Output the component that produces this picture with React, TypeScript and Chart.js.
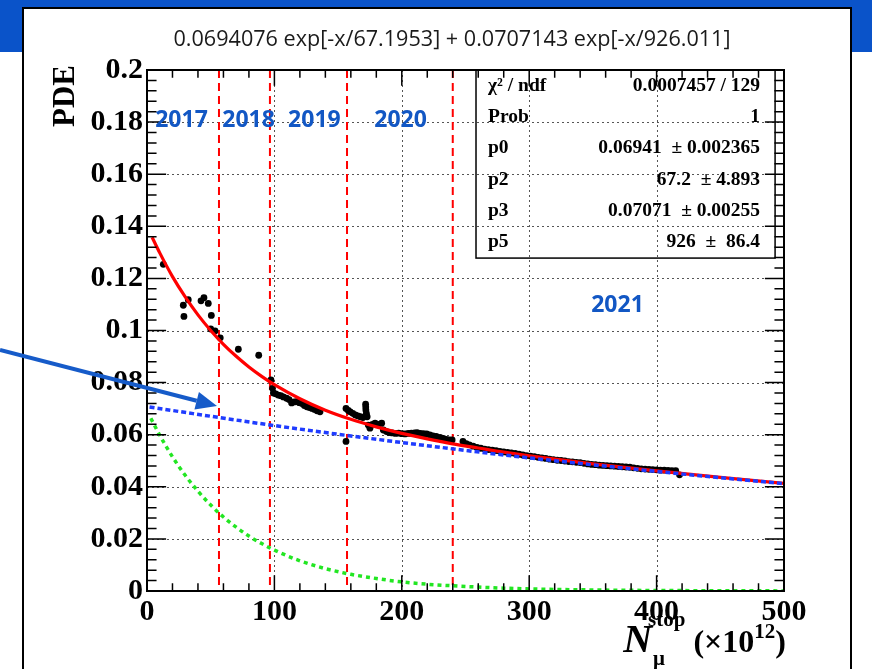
import React, { useEffect, useRef } from "react";
import { Chart, registerables } from "chart.js";

Chart.register(...registerables);

const W = 872;
const H = 669;

const chartTitle = "0.0694076 exp[-x/67.1953] + 0.0707143 exp[-x/926.011]";
const yAxisTitle = "PDE";

const xTicks = [0, 100, 200, 300, 400, 500];
const xTickLabels = ["0", "100", "200", "300", "400", "500"];
const yTicks = [0, 0.02, 0.04, 0.06, 0.08, 0.1, 0.12, 0.14, 0.16, 0.18, 0.2];
const yTickLabels = ["0", "0.02", "0.04", "0.06", "0.08", "0.1", "0.12", "0.14", "0.16", "0.18", "0.2"];

// measured PDE points
const pdeX = [
  12.8, 28.5, 29.0, 32.4, 42.4, 44.7, 48.1, 50.0, 50.5, 53.4, 57.5, 71.7, 87.7,
  97.3, 98.5, 99.2, 101.0, 103.0, 105.0, 107.0, 109.5, 111.5, 113.5, 115.5, 117.5, 119.5, 121.5, 123.5, 125.5, 127.5, 129.5, 131.5, 133.5, 135.8,
  156.2, 156.2, 158.0, 159.5, 161.5, 163.5, 165.5, 167.5, 169.5, 171.6, 171.7, 171.8, 172.2, 172.8, 173.7, 175.0, 177.0, 179.0, 181.5, 184.2,
  185.5, 188.0, 190.0, 192.5, 195.0, 197.5, 200.0, 202.5, 205.0, 207.5, 210.0, 212.0, 214.5, 217.0, 219.5, 222.0, 224.5, 227.0, 230.0, 232.5, 235.0, 237.5, 239.5,
  248.0, 250.5, 253.0, 256.0, 259.0, 262.0, 265.0, 268.0, 271.0, 274.0, 277.0, 280.0, 283.0, 286.0, 289.0, 292.0, 295.0, 298.0, 301.0, 304.0,
  307.0, 310.0, 313.0, 316.0, 319.0, 322.0, 325.0, 328.0, 331.0, 334.0, 337.0, 340.0, 343.0, 346.0, 349.0, 352.0, 355.0, 358.0, 361.0, 364.0,
  367.0, 370.0, 373.0, 376.0, 379.0, 382.0, 385.0, 388.0, 391.0, 394.0, 397.0, 400.0, 403.0, 406.0, 409.0, 412.0, 415.0, 418.0,
];
const pdeY = [
  0.1254, 0.1097, 0.1054, 0.1118, 0.1114, 0.1126, 0.1104, 0.1006, 0.1058, 0.0998, 0.0972, 0.0928, 0.0905,
  0.0810, 0.0778, 0.0760, 0.0757, 0.0752, 0.0750, 0.0745, 0.0740, 0.0735, 0.0722, 0.0726, 0.0727, 0.0723, 0.0720, 0.0712, 0.0707, 0.0704, 0.0701, 0.0697, 0.0692, 0.0688,
  0.0701, 0.0574, 0.0693, 0.0688, 0.0682, 0.0676, 0.0672, 0.0669, 0.0666, 0.0717, 0.0706, 0.0695, 0.0682, 0.0669, 0.0637, 0.0625, 0.0640, 0.0644, 0.0640, 0.0644,
  0.0618, 0.0612, 0.0608, 0.0607, 0.0605, 0.0606, 0.0604, 0.0603, 0.0605, 0.0606, 0.0607, 0.0608, 0.0605, 0.0604, 0.0603, 0.0599, 0.0595, 0.0593, 0.0590, 0.0586, 0.0582, 0.0580, 0.0580,
  0.0574, 0.0566, 0.0561, 0.0556, 0.0551, 0.0548, 0.0545, 0.0543, 0.0541, 0.0539, 0.0536, 0.0534, 0.0532, 0.0530, 0.0528, 0.0525, 0.0522, 0.0520, 0.0518, 0.0516,
  0.0513, 0.0511, 0.0509, 0.0506, 0.0504, 0.0502, 0.0501, 0.0499, 0.0497, 0.0496, 0.0494, 0.0493, 0.0490, 0.0488, 0.0486, 0.0485, 0.0483, 0.0482, 0.0481, 0.0480,
  0.0479, 0.0478, 0.0477, 0.0476, 0.0475, 0.0473, 0.0471, 0.0469, 0.0468, 0.0467, 0.0466, 0.0465, 0.0464, 0.0464, 0.0463, 0.0462, 0.0462, 0.0446,
];

// fitted total curve (red)
const fitX = [4, 10, 20, 30, 40, 50, 60, 70, 80, 90, 100, 120, 140, 160, 180, 200, 220, 240, 260, 280, 300, 350, 400, 450, 500];
const fitY = [0.1358, 0.1298, 0.1207, 0.1129, 0.1060, 0.1000, 0.0947, 0.0901, 0.0860, 0.0824, 0.0792, 0.0738, 0.0694, 0.0659, 0.0630, 0.0605, 0.0584, 0.0565, 0.0549, 0.0533, 0.0519, 0.0488, 0.0461, 0.0436, 0.0413];

// slow component (blue dashed)
const slowX = [2, 100, 200, 300, 400, 500];
const slowY = [0.0706, 0.0635, 0.0570, 0.0511, 0.0459, 0.0412];

// fast component (green dashed)
const fastX = [3, 10, 20, 30, 40, 50, 60, 70, 80, 90, 100, 120, 140, 160, 180, 200, 220, 240, 260, 280, 300, 350, 400, 450, 500];
const fastY = [0.0663, 0.0598, 0.0515, 0.0444, 0.0383, 0.0330, 0.0284, 0.0245, 0.0211, 0.0182, 0.0157, 0.0116, 0.0086, 0.0064, 0.0048, 0.0035, 0.0026, 0.0020, 0.0015, 0.0011, 0.0008, 0.0004, 0.0002, 0.0001, 0.00004];

const yearDividers = [56.5, 96.5, 157, 240];
const yearNames = ["2017", "2018", "2019", "2020", "2021"];
const yearNameX = [27.1, 79.7, 131.4, 199, 369.3];
const yearNameY = [0.1806, 0.1806, 0.1806, 0.1806, 0.1098];

const statsLabels = ["χ² / ndf", "Prob", "p0", "p2", "p3", "p5"];
const statsValues = ["0.0007457 / 129", "1", "0.06941  ± 0.002365", "67.2  ± 4.893", "0.07071  ± 0.00255", "926  ±  86.4"];

const BAND = "#0a53c9";
const YEAR_BLUE = "#1257c4";
const SERIF = "'Liberation Serif', 'Times New Roman', serif";

const decor = {
  id: "decor",
  beforeDraw(chart: any) {
    const { ctx } = chart;
    ctx.save();
    ctx.fillStyle = "#ffffff";
    ctx.fillRect(0, 0, W, H);
    ctx.fillStyle = BAND;
    ctx.fillRect(0, 0, W, 52);
    ctx.fillStyle = "#ffffff";
    ctx.fillRect(23, 8, 828, H);
    ctx.strokeStyle = "#000";
    ctx.lineWidth = 2;
    ctx.beginPath();
    ctx.moveTo(23, H);
    ctx.lineTo(23, 8);
    ctx.lineTo(851, 8);
    ctx.lineTo(851, H);
    ctx.stroke();
    ctx.fillStyle = "#1a1a1a";
    ctx.font = "21.6px 'Open Sans', sans-serif";
    ctx.textAlign = "center";
    ctx.textBaseline = "middle";
    ctx.fillText(chartTitle, 452, 40);
    ctx.restore();
  },
  beforeDatasetsDraw(chart: any) {
    const { ctx, chartArea: a, scales } = chart;
    const xs = scales.x, ys = scales.y;
    ctx.save();
    // dotted grid
    ctx.strokeStyle = "#555";
    ctx.lineWidth = 1;
    ctx.setLineDash([2, 3]);
    xTicks.forEach((v) => {
      if (v === xs.min || v === xs.max) return;
      const p = Math.round(xs.getPixelForValue(v)) + 0.5;
      ctx.beginPath();
      ctx.moveTo(p, a.top);
      ctx.lineTo(p, a.bottom);
      ctx.stroke();
    });
    yTicks.forEach((v) => {
      if (v === ys.min || v === ys.max) return;
      const p = Math.round(ys.getPixelForValue(v)) + 0.5;
      ctx.beginPath();
      ctx.moveTo(a.left, p);
      ctx.lineTo(a.right, p);
      ctx.stroke();
    });
    // year dividers
    ctx.strokeStyle = "#ff0000";
    ctx.lineWidth = 2;
    ctx.setLineDash([8, 5]);
    yearDividers.forEach((v) => {
      const p = xs.getPixelForValue(v);
      ctx.beginPath();
      ctx.moveTo(p, a.top);
      ctx.lineTo(p, a.bottom);
      ctx.stroke();
    });
    ctx.restore();
  },
  afterDatasetsDraw(chart: any) {
    const { ctx, chartArea: a, scales } = chart;
    const xs = scales.x, ys = scales.y;
    ctx.save();
    ctx.setLineDash([]);
    // frame
    ctx.strokeStyle = "#000";
    ctx.lineWidth = 2;
    ctx.strokeRect(a.left, a.top, a.right - a.left, a.bottom - a.top);
    // ticks
    ctx.lineWidth = 1.5;
    const pw = a.right - a.left, ph = a.bottom - a.top;
    for (let k = 0; k <= 25; k++) {
      const v = k * 20;
      const p = xs.getPixelForValue(v);
      const len = k % 5 === 0 ? 0.03 * ph : 0.015 * ph;
      ctx.beginPath();
      ctx.moveTo(p, a.bottom);
      ctx.lineTo(p, a.bottom - len);
      ctx.moveTo(p, a.top);
      ctx.lineTo(p, a.top + len);
      ctx.stroke();
    }
    for (let k = 0; k <= 50; k++) {
      const v = k * 0.004;
      const p = ys.getPixelForValue(v);
      const len = k % 5 === 0 ? 0.03 * pw : 0.015 * pw;
      ctx.beginPath();
      ctx.moveTo(a.left, p);
      ctx.lineTo(a.left + len, p);
      ctx.moveTo(a.right, p);
      ctx.lineTo(a.right - len, p);
      ctx.stroke();
    }
    // stats box
    const bx0 = a.left + 0.5165 * pw;
    const bx1 = a.left + 0.986 * pw;
    const by0 = a.top;
    const by1 = a.top + 0.361 * ph;
    ctx.lineWidth = 1.5;
    ctx.strokeRect(bx0, by0, bx1 - bx0, by1 - by0);
    ctx.fillStyle = "#000";
    ctx.font = `bold 19.5px ${SERIF}`;
    ctx.textBaseline = "middle";
    const rowH = (by1 - by0) / statsLabels.length;
    statsLabels.forEach((lab, i) => {
      const cy = by0 + rowH * (i + 0.5);
      ctx.textAlign = "left";
      ctx.fillText(lab, bx0 + 12, cy);
      ctx.textAlign = "right";
      ctx.fillText(statsValues[i], bx1 - 15, cy);
    });
    // year labels
    ctx.fillStyle = YEAR_BLUE;
    ctx.font = "bold 23px 'Open Sans', sans-serif";
    ctx.textAlign = "center";
    ctx.textBaseline = "middle";
    yearNames.forEach((n, i) => {
      ctx.fillText(n, xs.getPixelForValue(yearNameX[i]), ys.getPixelForValue(yearNameY[i]));
    });
    // y axis title
    ctx.fillStyle = "#000";
    ctx.save();
    ctx.translate(66, 96);
    ctx.rotate(-Math.PI / 2);
    ctx.font = `bold 31px ${SERIF}`;
    ctx.textAlign = "center";
    ctx.textBaseline = "middle";
    ctx.fillText(yAxisTitle, 0, 0);
    ctx.restore();
    // x axis title: N_mu^stop (x10^12)
    ctx.textAlign = "left";
    ctx.textBaseline = "alphabetic";
    const base = 652;
    const fN = `italic bold 40px ${SERIF}`;
    const fS = `bold 21px ${SERIF}`;
    const fM = `bold 32px ${SERIF}`;
    const fE = `bold 21px ${SERIF}`;
    ctx.font = fN; const wN = ctx.measureText("N").width;
    ctx.font = fS; const wMu = ctx.measureText("μ").width; const wStop = ctx.measureText("stop").width;
    ctx.font = fM; const wOpen = ctx.measureText("(×10").width; const wClose = ctx.measureText(")").width;
    ctx.font = fE; const wExp = ctx.measureText("12").width;
    const scriptW = Math.max(wMu + 1, wStop - 4);
    const total = wN + scriptW + 8 + wOpen + wExp + wClose;
    const x0 = a.right + 2 - total;
    ctx.font = fN; ctx.fillText("N", x0, base);
    ctx.font = fS;
    ctx.fillText("μ", x0 + wN + 1, base + 13);
    ctx.fillText("stop", x0 + wN - 4, base - 26);
    let x1 = x0 + wN + scriptW + 8;
    ctx.font = fM; ctx.fillText("(×10", x1, base);
    x1 += wOpen;
    ctx.font = fE; ctx.fillText("12", x1, base - 14);
    x1 += wExp;
    ctx.font = fM; ctx.fillText(")", x1, base);
    // arrow
    const tipX = 217, tipY = 406, sx = 0, sy = 350;
    const dx = tipX - sx, dy = tipY - sy, L = Math.hypot(dx, dy);
    const ux = dx / L, uy = dy / L;
    const hl = 21, hw = 9;
    const bxC = tipX - hl * ux, byC = tipY - hl * uy;
    ctx.strokeStyle = "#165bc9";
    ctx.fillStyle = "#165bc9";
    ctx.lineWidth = 4;
    ctx.beginPath();
    ctx.moveTo(sx, sy);
    ctx.lineTo(bxC, byC);
    ctx.stroke();
    ctx.beginPath();
    ctx.moveTo(tipX, tipY);
    ctx.lineTo(bxC - hw * uy, byC + hw * ux);
    ctx.lineTo(bxC + hw * uy, byC - hw * ux);
    ctx.closePath();
    ctx.fill();
    ctx.restore();
  },
};

const toPoints = (xs: number[], ys: number[]) => xs.map((x, i) => ({ x, y: ys[i] }));

export default function App() {
  const ref = useRef<HTMLCanvasElement>(null);
  useEffect(() => {
    document.body.style.margin = "0";
    const canvas = ref.current!;
    const tickFont = { family: SERIF, weight: "bold" as const, size: 30 };
    const chart = new Chart(canvas, {
      type: "scatter",
      data: {
        datasets: [
          {
            label: "PDE",
            data: toPoints(pdeX, pdeY),
            showLine: false,
            pointRadius: 3.4,
            pointBorderWidth: 0,
            pointBackgroundColor: "#000",
            pointBorderColor: "#000",
            order: 4,
          },
          {
            label: "fit",
            data: toPoints(fitX, fitY),
            showLine: true,
            borderColor: "#ff0000",
            borderWidth: 3.2,
            pointRadius: 0,
            cubicInterpolationMode: "monotone",
            order: 3,
          },
          {
            label: "slow",
            data: toPoints(slowX, slowY),
            showLine: true,
            borderColor: "#1f3cff",
            borderWidth: 3.5,
            borderDash: [5, 3],
            pointRadius: 0,
            cubicInterpolationMode: "monotone",
            order: 2,
          },
          {
            label: "fast",
            data: toPoints(fastX, fastY),
            showLine: true,
            borderColor: "#22e622",
            borderWidth: 3.5,
            borderDash: [4, 4],
            pointRadius: 0,
            cubicInterpolationMode: "monotone",
            order: 1,
          },
        ],
      },
      options: {
        responsive: false,
        animation: false,
        devicePixelRatio: 1,
        events: [],
        layout: { padding: { top: 70, right: 88, left: 0, bottom: 0 } },
        plugins: { legend: { display: false }, tooltip: { enabled: false }, title: { display: false } },
        scales: {
          x: {
            type: "linear",
            min: 0,
            max: 500,
            afterBuildTicks: (s: any) => { s.ticks = xTicks.map((v) => ({ value: v })); },
            afterFit: (s: any) => { s.height = 78; },
            grid: { display: false, drawTicks: false },
            border: { display: false },
            ticks: {
              callback: (_v: any, i: number) => xTickLabels[i],
              font: tickFont,
              color: "#000",
              padding: 3,
              maxRotation: 0,
              autoSkip: false,
            },
          },
          y: {
            type: "linear",
            min: 0,
            max: 0.2,
            afterBuildTicks: (s: any) => { s.ticks = yTicks.map((v) => ({ value: v })); },
            afterFit: (s: any) => { s.width = 147; },
            grid: { display: false, drawTicks: false },
            border: { display: false },
            ticks: {
              callback: (_v: any, i: number) => yTickLabels[i],
              font: tickFont,
              color: "#000",
              padding: 4,
              autoSkip: false,
            },
          },
        },
      },
      plugins: [decor],
    } as any);
    return () => chart.destroy();
  }, []);
  return <canvas ref={ref} width={W} height={H} style={{ display: "block", width: W, height: H }} />;
}
